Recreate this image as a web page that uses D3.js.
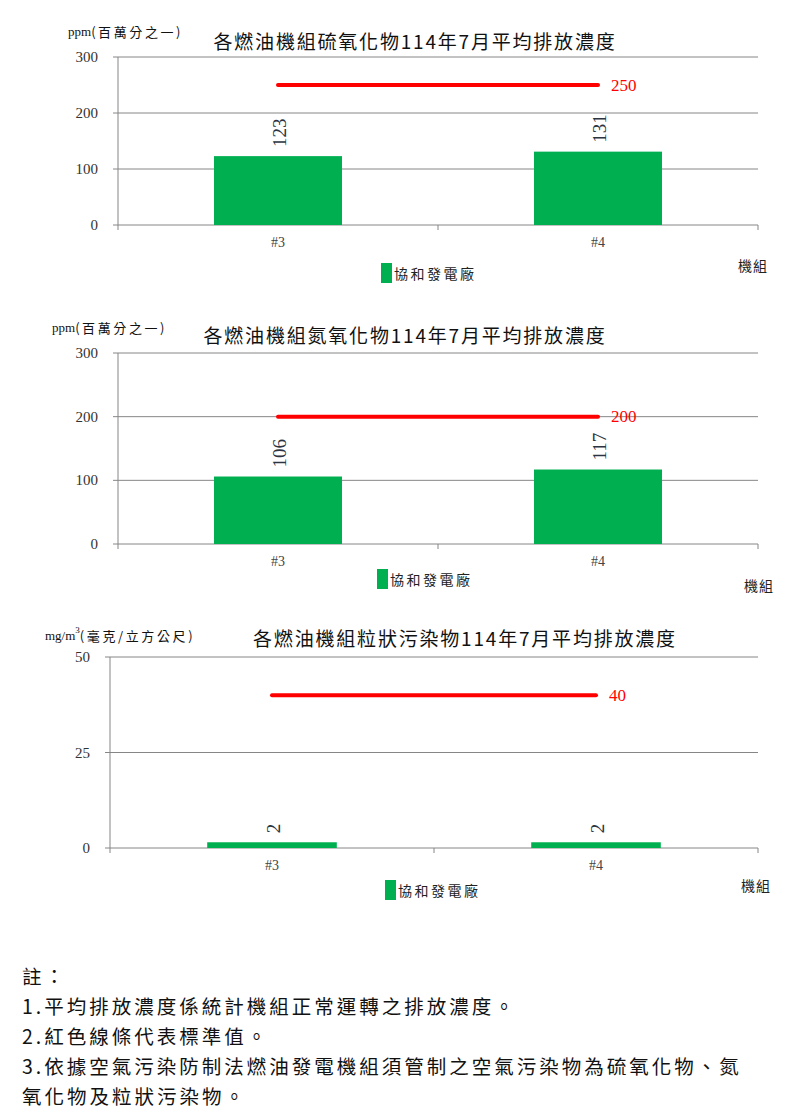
<!doctype html>
<html>
  <head>
    <meta charset="utf-8">
    <style>
      body { margin: 0; background: #fff; }
      text { font-family: "Liberation Serif", "Noto Sans CJK TC", serif; }
      .cjk { font-family: "Noto Sans CJK TC", sans-serif; }
    </style>
  </head>
  <body>
    <svg width="793" height="1117" id="content"></svg>

    <script src="https://cdnjs.cloudflare.com/ajax/libs/d3/7.8.5/d3.min.js"></script>
    <script>
      // data
      const units = ['#3', '#4']
      const plantName = '協和發電廠'
      const soxValues = [123, 131]
      const noxValues = [106, 117]
      const pmValues = [1.5, 1.5]
      const soxLimit = 250
      const noxLimit = 200
      const pmLimit = 40
      const ppmTicks = [0, 100, 200, 300]
      const pmTicks = [0, 25, 50]
      const titles = [
        '各燃油機組硫氧化物114年7月平均排放濃度',
        '各燃油機組氮氧化物114年7月平均排放濃度',
        '各燃油機組粒狀污染物114年7月平均排放濃度'
      ]
      const notes = [
        '註：',
        '1.平均排放濃度係統計機組正常運轉之排放濃度。',
        '2.紅色線條代表標準值。',
        '3.依據空氣污染防制法燃油發電機組須管制之空氣污染物為硫氧化物、氮',
        '氧化物及粒狀污染物。'
      ]

      const svg = d3.select('#content')
      const green = '#00b050'
      const red = '#ff0000'
      const grid = '#868686'

      function drawChart (opt) {
        const g = svg.append('g')
        const x = d3.scaleBand().domain(units).range([opt.left, opt.right]).paddingInner(0).paddingOuter(0)
        const y = d3.scaleLinear().domain([0, d3.max(opt.ticks)]).range([opt.bottom, opt.top])
        const barW = x.bandwidth() * 0.4

        // gridlines + left ticks
        g.selectAll('.grid').data(opt.ticks).enter().append('line')
          .attr('x1', opt.left - 5).attr('x2', opt.right)
          .attr('y1', d => y(d)).attr('y2', d => y(d))
          .style('stroke', grid).style('stroke-width', 1)

        g.selectAll('.tick').data(opt.ticks).enter().append('text')
          .attr('x', opt.left - 20).attr('y', d => y(d))
          .attr('text-anchor', 'end').attr('dominant-baseline', 'central')
          .style('font-size', '15px').style('fill', '#333')
          .text(d => d)

        // y axis line
        g.append('line')
          .attr('x1', opt.left).attr('x2', opt.left)
          .attr('y1', opt.top).attr('y2', opt.bottom + 5)
          .style('stroke', grid)

        // category boundary ticks
        const bounds = units.map(u => x(u) + x.bandwidth())
        g.selectAll('.xt').data(bounds).enter().append('line')
          .attr('x1', d => d).attr('x2', d => d)
          .attr('y1', opt.bottom).attr('y2', opt.bottom + 5)
          .style('stroke', grid)

        // bars
        g.selectAll('.bar').data(opt.values).enter().append('rect')
          .attr('x', (d, i) => x(units[i]) + x.bandwidth() / 2 - barW / 2)
          .attr('y', d => y(d))
          .attr('width', barW)
          .attr('height', d => opt.bottom - y(d))
          .style('fill', green)

        // value labels, rotated
        g.selectAll('.val').data(opt.values).enter().append('text')
          .attr('transform', (d, i) => `translate(${x(units[i]) + x.bandwidth() / 2 + 1}, ${y(d) - 9}) rotate(-90)`)
          .attr('dominant-baseline', 'central')
          .style('font-size', '19px').style('fill', '#2b3440')
          .text(d => d.toFixed(0))

        // limit line
        const c0 = x(units[0]) + x.bandwidth() / 2
        const c1 = x(units[units.length - 1]) + x.bandwidth() / 2
        g.append('line')
          .attr('x1', c0).attr('x2', c1)
          .attr('y1', y(opt.limit)).attr('y2', y(opt.limit))
          .style('stroke', red).style('stroke-width', 4).style('stroke-linecap', 'round')
        g.append('text')
          .attr('x', c1 + 13).attr('y', y(opt.limit))
          .attr('dominant-baseline', 'central')
          .style('font-size', '17px').style('fill', red)
          .text(opt.limit)

        // category labels
        g.selectAll('.cat').data(units).enter().append('text')
          .attr('x', d => x(d) + x.bandwidth() / 2).attr('y', opt.bottom + 17)
          .attr('text-anchor', 'middle').attr('dominant-baseline', 'central')
          .style('font-size', '14px').style('fill', '#444')
          .text(d => d)

        // title + unit
        g.append('text').attr('class', 'cjk')
          .attr('x', opt.titleX).attr('y', opt.titleY)
          .attr('text-anchor', 'middle').attr('dominant-baseline', 'central')
          .style('font-size', '19px').style('letter-spacing', '1.8px').style('fill', '#111')
          .text(opt.title)
        const unit = g.append('text')
          .attr('x', opt.unitX).attr('y', opt.unitY)
          .attr('dominant-baseline', 'central')
          .style('font-size', '13px').style('fill', '#111')
        unit.append('tspan').text(opt.unit[0])
        if (opt.unitSup) {
          unit.append('tspan').attr('dy', -5).style('font-size', '9px').text(opt.unitSup)
          unit.append('tspan').attr('dy', 5).attr('class', 'cjk').style('letter-spacing', '2.6px').text(opt.unit[1])
        } else {
          unit.append('tspan').attr('class', 'cjk').style('letter-spacing', '2.6px').text(opt.unit[1])
        }

        // legend
        g.append('rect')
          .attr('x', opt.legendX).attr('y', opt.legendY - 10)
          .attr('width', 11).attr('height', 20)
          .style('fill', green)
        g.append('text').attr('class', 'cjk')
          .attr('x', opt.legendX + 13).attr('y', opt.legendY)
          .attr('dominant-baseline', 'central')
          .style('font-size', '14px').style('letter-spacing', '2.5px').style('fill', '#222')
          .text(plantName)

        g.append('text').attr('class', 'cjk')
          .attr('x', opt.axisNameX).attr('y', opt.axisNameY)
          .attr('dominant-baseline', 'central')
          .style('font-size', '14px').style('letter-spacing', '1px').style('fill', '#222')
          .text('機組')
      }

      drawChart({
        values: soxValues, limit: soxLimit, ticks: ppmTicks, title: titles[0],
        left: 118, right: 758, top: 57, bottom: 225,
        titleX: 415, titleY: 40, unitX: 68, unitY: 31, unit: ['ppm', '(百萬分之一)'],
        legendX: 381, legendY: 273, axisNameX: 738, axisNameY: 265
      })

      drawChart({
        values: noxValues, limit: noxLimit, ticks: ppmTicks, title: titles[1],
        left: 118, right: 758, top: 353, bottom: 544,
        titleX: 405, titleY: 334, unitX: 52, unitY: 327, unit: ['ppm', '(百萬分之一)'],
        legendX: 377, legendY: 579, axisNameX: 744, axisNameY: 585
      })

      drawChart({
        values: pmValues, limit: pmLimit, ticks: pmTicks, title: titles[2],
        left: 110, right: 758, top: 657, bottom: 848,
        titleX: 465, titleY: 637, unitX: 45, unitY: 635, unit: ['mg/m', '(毫克/立方公尺)'], unitSup: '3',
        legendX: 385, legendY: 890, axisNameX: 741, axisNameY: 885
      })

      // notes
      svg.selectAll('.note').data(notes).enter().append('text')
        .attr('class', 'cjk')
        .attr('x', 22).attr('y', (d, i) => 975 + i * 30)
        .attr('dominant-baseline', 'central')
        .style('font-size', '19.5px').style('letter-spacing', '3px').style('fill', '#111')
        .text(d => d)
    </script>
  </body>
</html>
